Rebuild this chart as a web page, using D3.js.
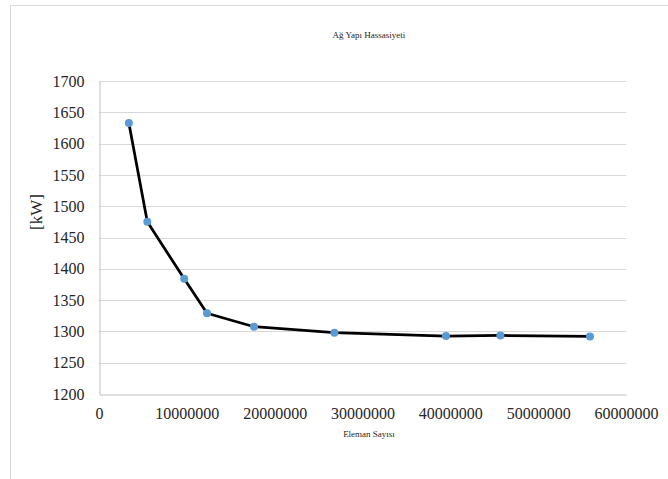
<!DOCTYPE html>
<html>
<head>
<meta charset="utf-8">
<script src="https://cdn.jsdelivr.net/npm/d3@7"></script>
<style>
  html, body { margin: 0; padding: 0; background: #fff; }
  svg { display: block; }
</style>
</head>
<body>
<script>
// Mesh sensitivity study: element count vs. power
const elementCounts = [3400000, 5500000, 9700000, 12300000, 17650000, 26800000, 39500000, 45700000, 55900000];
const powerKW = [1633, 1475, 1384, 1329, 1307.5, 1298, 1292.5, 1293.5, 1292];
const xTicks = [0, 10000000, 20000000, 30000000, 40000000, 50000000, 60000000];
const yTicks = [1200, 1250, 1300, 1350, 1400, 1450, 1500, 1550, 1600, 1650, 1700];
const chartTitle = "Ağ Yapı Hassasiyeti";
const xTitle = "Eleman Sayısı";
const yTitle = "[kW]";

const W = 668, H = 479;
const plot = { left: 99, right: 626, top: 81, bottom: 394 };
const serif = "Liberation Serif";
const ink = "#262626";

const svg = d3.select("body").append("svg").attr("width", W).attr("height", H);

// chart area frame (top and left edges)
svg.append("line").attr("x1", 10.5).attr("x2", W).attr("y1", 5.5).attr("y2", 5.5)
  .attr("stroke", "#d9d9d9").attr("stroke-width", 1);
svg.append("line").attr("x1", 10.5).attr("x2", 10.5).attr("y1", 5.5).attr("y2", H)
  .attr("stroke", "#d9d9d9").attr("stroke-width", 1);

const x = d3.scaleLinear().domain([0, 60000000]).range([plot.left, plot.right]);
const y = d3.scaleLinear().domain([1200, 1700]).range([plot.bottom, plot.top]);

// horizontal gridlines
svg.append("g").selectAll("line").data(yTicks.filter(t => t > 1200)).join("line")
  .attr("x1", plot.left).attr("x2", plot.right)
  .attr("y1", d => Math.round(y(d)) + 0.5).attr("y2", d => Math.round(y(d)) + 0.5)
  .attr("stroke", "#d9d9d9").attr("stroke-width", 1);

// y axis
const yAxis = svg.append("g").attr("transform", `translate(${plot.left + 0.5},0)`)
  .call(d3.axisLeft(y).tickValues(yTicks).tickSize(0).tickPadding(15).tickFormat(d3.format("d")));
yAxis.select(".domain").attr("stroke", "#bfbfbf");
yAxis.selectAll("text").attr("font-family", serif).attr("font-size", 16).attr("fill", ink);

// x axis
const xAxis = svg.append("g").attr("transform", `translate(0,${plot.bottom + 0.5})`)
  .call(d3.axisBottom(x).tickValues(xTicks).tickSize(0).tickPadding(13).tickFormat(d3.format("d")));
xAxis.select(".domain").attr("stroke", "#bfbfbf");
xAxis.selectAll("text").attr("font-family", serif).attr("font-size", 16).attr("fill", ink);

// series line
const line = d3.line().x((d, i) => x(elementCounts[i])).y(d => y(d));
svg.append("path").datum(powerKW).attr("d", line)
  .attr("fill", "none").attr("stroke", "#000").attr("stroke-width", 2.75)
  .attr("stroke-linejoin", "round").attr("stroke-linecap", "round");

// markers
svg.append("g").selectAll("circle").data(powerKW).join("circle")
  .attr("cx", (d, i) => x(elementCounts[i])).attr("cy", d => y(d))
  .attr("r", 4).attr("fill", "#5b9bd5");

// titles
svg.append("text").attr("x", 369).attr("y", 38).attr("text-anchor", "middle")
  .attr("font-family", serif).attr("font-size", 9).attr("fill", ink).text(chartTitle);
svg.append("text").attr("x", 369).attr("y", 437).attr("text-anchor", "middle")
  .attr("font-family", serif).attr("font-size", 9).attr("fill", ink).text(xTitle);
svg.append("text").attr("transform", "translate(42,212) rotate(-90)").attr("text-anchor", "middle")
  .attr("font-family", serif).attr("font-size", 17).attr("fill", ink).text(yTitle);
</script>
</body>
</html>
